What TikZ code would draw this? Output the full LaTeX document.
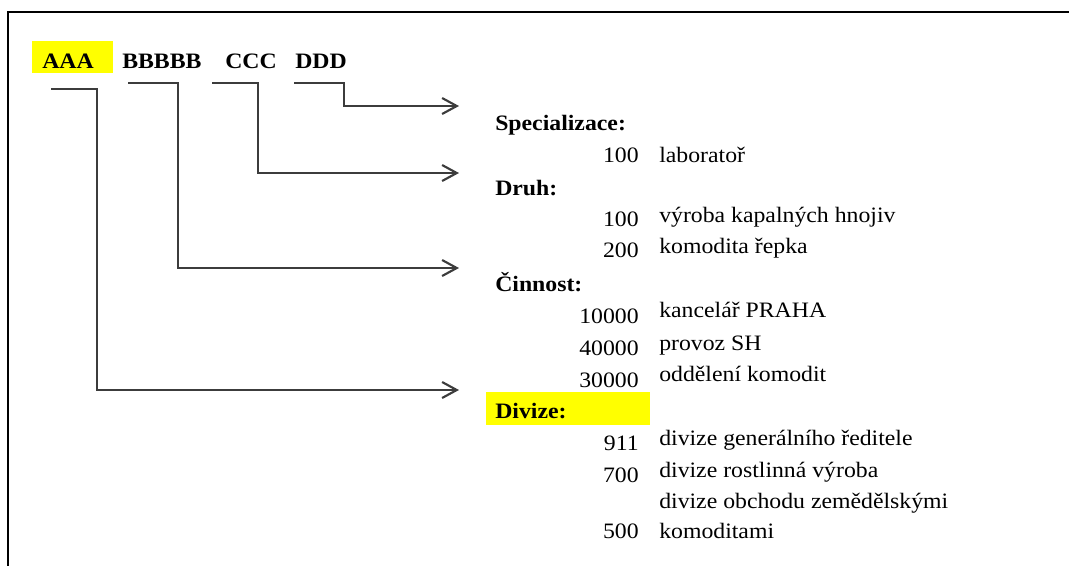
\documentclass[tikz,border=0pt]{standalone}
\usepackage{fontspec}
\setmainfont{Liberation Serif}[FakeStretch=1.08]
\usetikzlibrary{arrows.meta}
\definecolor{linegray}{HTML}{3C3C3C}
\definecolor{hiyellow}{HTML}{FFFF00}
\tikzset{
  frame/.style={line width=2pt,black},
  conn/.style={line width=2pt,linegray,-{Straight Barb[length=11pt,width=12pt,line width=1.6pt]}},
  code/.style={font=\fontsize{16.5}{19}\selectfont\bfseries,anchor=base west,inner sep=0pt},
  head/.style={font=\fontsize{16.5}{19}\selectfont\bfseries,anchor=base west,inner sep=0pt},
  num/.style={font=\fontsize{16.5}{19}\selectfont,anchor=base east,inner sep=0pt},
  lab/.style={font=\fontsize{16.5}{19}\selectfont,anchor=base west,inner sep=0pt},
  hl/.style={fill=hiyellow,draw=none}
}
\begin{document}
\begin{tikzpicture}[x=0.75pt,y=-0.75pt]
\useasboundingbox (0,0) rectangle (1069,565);
% frame
\draw[frame] (8,567) -- (8,12) -- (1071,12);
% highlights
\fill[hl] (32,41) rectangle (113,73);
\fill[hl] (486,392) rectangle (650,425);
% codes
\node[code] (aaa) at (42,68) {AAA};
\node[code] (bbb) at (122,68) {BBBBB};
\node[code] (ccc) at (225,68) {CCC};
\node[code] (ddd) at (295,68) {DDD};
% connector coordinates
\coordinate (a0) at (51,89);  \coordinate (a1) at (97,390);  \coordinate (a2) at (459,390);
\coordinate (b0) at (128,83); \coordinate (b1) at (178,268); \coordinate (b2) at (459,268);
\coordinate (c0) at (212,83); \coordinate (c1) at (258,173); \coordinate (c2) at (459,173);
\coordinate (d0) at (294,83); \coordinate (d1) at (344,106); \coordinate (d2) at (459,106);
\draw[conn] (a0) -| (a1) -- (a2);
\draw[conn] (b0) -| (b1) -- (b2);
\draw[conn] (c0) -| (c1) -- (c2);
\draw[conn] (d0) -| (d1) -- (d2);
% right column
\node[head] (spec) at (495,130) {Specializace:};
\node[num] (n1) at (639,162) {100};
\node[lab] (l1) at (659,162) {laboratoř};
\node[head] (druh) at (495,195) {Druh:};
\node[num] (n2) at (639,226) {100};
\node[lab] (l2) at (659,222) {výroba kapalných hnojiv};
\node[num] (n3) at (639,257) {200};
\node[lab] (l3) at (659,253) {komodita řepka};
\node[head] (cin) at (495,291) {Činnost:};
\node[num] (n4) at (639,323) {10000};
\node[lab] (l4) at (659,317) {kancelář PRAHA};
\node[num] (n5) at (639,355) {40000};
\node[lab] (l5) at (659,350) {provoz SH};
\node[num] (n6) at (639,387) {30000};
\node[lab] (l6) at (659,381) {oddělení komodit};
\node[head] (div) at (495,418) {Divize:};
\node[num] (n7) at (639,450) {911};
\node[lab] (l7) at (659,445) {divize generálního ředitele};
\node[num] (n8) at (639,482) {700};
\node[lab] (l8) at (659,477) {divize rostlinná výroba};
\node[lab] (l9) at (659,508) {divize obchodu zemědělskými};
\node[num] (n9) at (639,538) {500};
\node[lab] (l10) at (659,538) {komoditami};
\end{tikzpicture}
\end{document}
